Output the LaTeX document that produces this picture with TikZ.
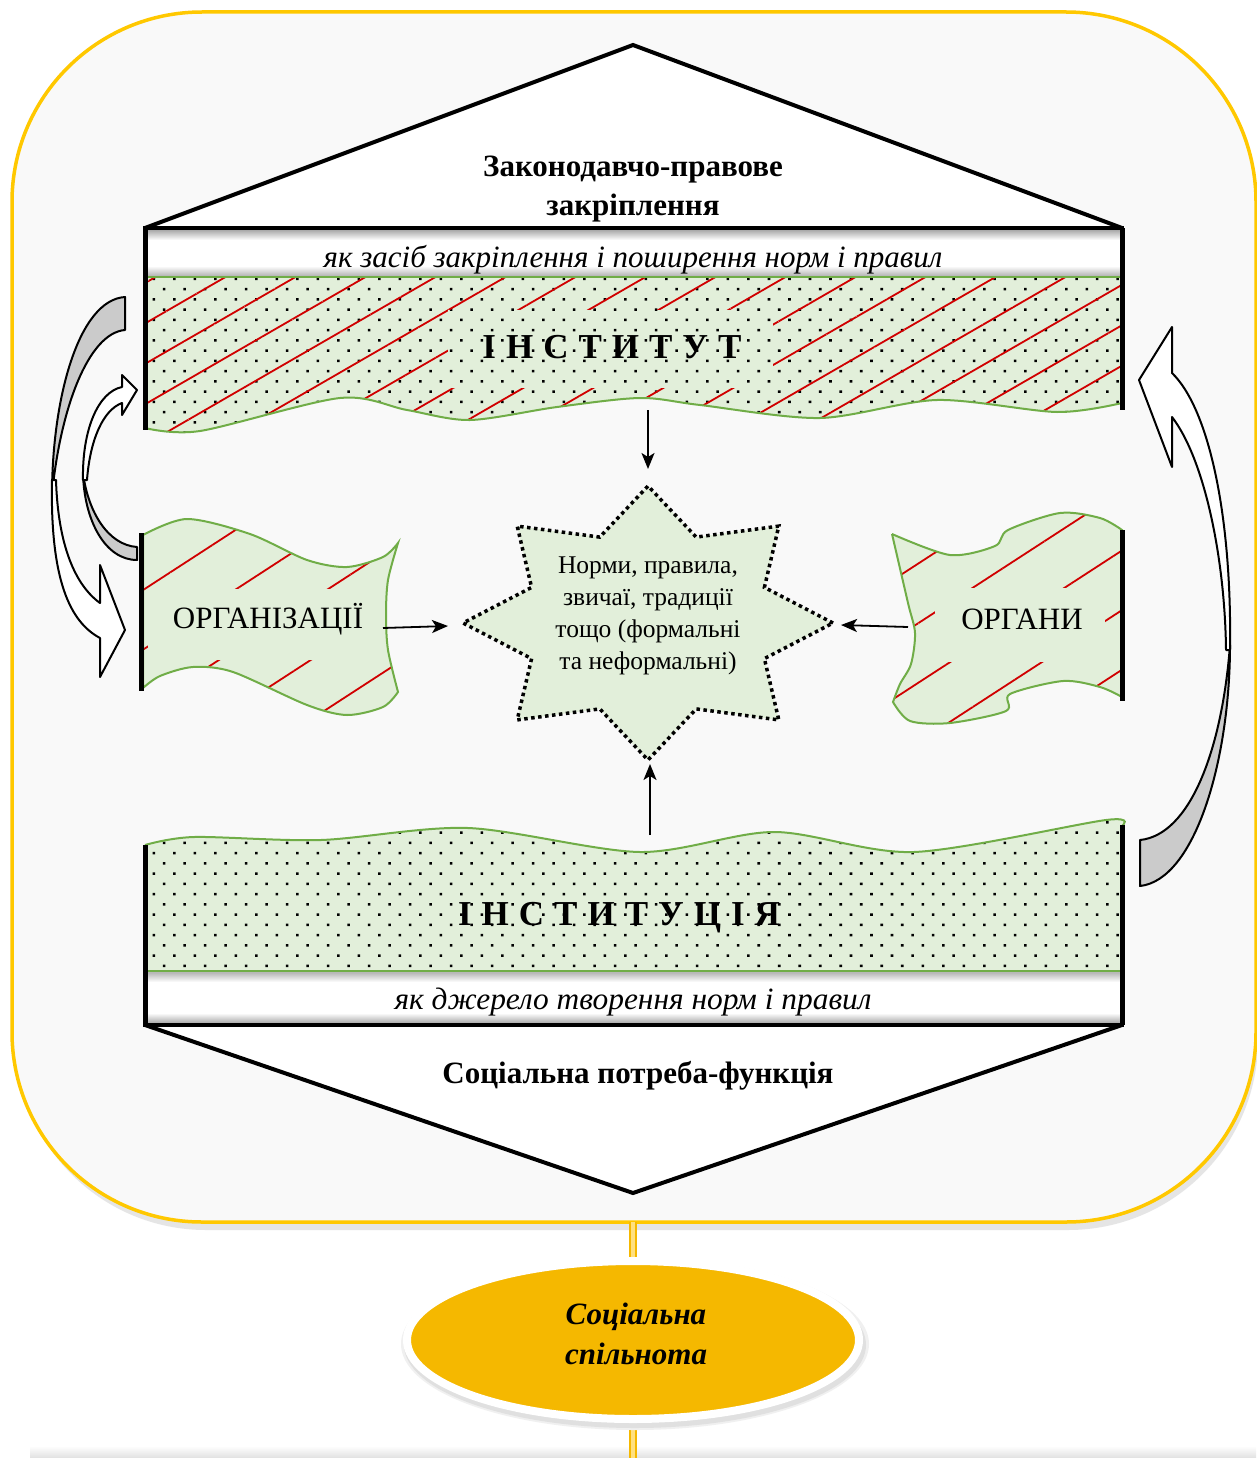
\documentclass[tikz,border=0pt]{standalone}
\usepackage{fontspec}
\usepackage{graphicx}
\setmainfont{Liberation Serif}
\usetikzlibrary{patterns.meta,arrows.meta,shapes.geometric,shadows}
\definecolor{gfill}{HTML}{E2EFDA}
\definecolor{gline}{HTML}{70AD47}
\definecolor{hred}{HTML}{D00000}
\definecolor{fgold}{HTML}{FFC800}
\definecolor{egold}{HTML}{F5B800}
\definecolor{egoldl}{HTML}{FFE080}
\definecolor{fbg}{HTML}{F9F9F9}
\definecolor{agray}{HTML}{CBCBCB}
\tikzset{
  barline/.style={line width=5pt},
  hexline/.style={line width=4pt, line join=miter},
  conn/.style={-{Stealth[length=16pt,width=13pt,inset=4pt]}, line width=1.8pt},
  flagline/.style={draw=gline, line width=2pt},
  dotsfill/.style={pattern={Dots[distance=14.5pt,angle=45,radius=1.8pt]}, pattern color=black},
  hatchband/.style={pattern={Lines[angle=30,distance=35pt,line width=1.8pt]}, pattern color=hred},
  hatchflag/.style={pattern={Lines[angle=33,distance=50pt,line width=1.8pt]}, pattern color=hred},
  carrow/.style={draw=black, line width=2pt, line join=round, fill=white},
  carrowback/.style={draw=black, line width=2pt, line join=round, fill=agray},
  starline/.style={draw=black, line width=3.5pt, dash pattern=on 3.5pt off 3.5pt, fill=gfill},
  captext/.style={font=\itshape\fontsize{31}{34}\selectfont},
  ttl/.style={font=\bfseries\fontsize{31}{39}\selectfont, align=center},
  lbl/.style={font=\fontsize{31}{34}\selectfont},
  bigtext/.style={font=\bfseries\fontsize{35}{40}\selectfont},
  goldpipe/.style={draw=egold, line width=2pt, double=egoldl, double distance=4pt},
}
\def\topband{(145,276) -- (1122,276) -- (1122,403) -- plot[smooth] coordinates {(1122,403) (1057,412) (937,400) (820,418) (700,405) (640,398) (557,407) (470,420) (407,410) (340,398) (200,431) (145,428)} -- cycle}
\def\botband{(145,972) -- (145,845) -- plot[smooth] coordinates {(145,845) (194,837) (321,840) (468,828) (640,852) (774,832) (914,852) (1106,820) (1122,826)} -- (1122,972) -- cycle}
\def\orgflag{plot[smooth] coordinates {(143,535) (187,519) (250,534) (307,560) (347,567) (383,557) (398,543)} -- plot[smooth] coordinates {(398,543) (388,580) (386,615) (388,650) (398,692)} -- plot[smooth] coordinates {(398,692) (383,707) (347,715) (307,705) (233,672) (193,667) (160,676) (143,688)} -- cycle}
\def\orgnflag{plot[smooth] coordinates {(892,534) (950,555) (995,546) (1008,530) (1060,513) (1100,518) (1122,530)} -- (1122,697) -- plot[smooth] coordinates {(1122,697) (1100,687) (1063,681) (1010,694) (1006,711) (950,723) (910,721) (893,702)} -- plot[smooth] coordinates {(893,702) (900,684) (911,664) (915,633) (908,603) (892,534)}}
\newcommand\gap{\hspace{10pt}}
\begin{document}
\begin{tikzpicture}[x=1pt,y=-1pt]
\useasboundingbox (0,0) rectangle (1256,1458);
\fill[white] (0,0) rectangle (1256,1458);
% faint edge of the next frame at the bottom
\shade[top color=white, bottom color=black!12] (30,1446) rectangle (1256,1458);
% outer frame with shadow
\fill[black!10, rounded corners=190pt] (16,20) rectangle (1258,1230);
\draw[line width=3.5pt, draw=fgold, fill=fbg, rounded corners=190pt] (12,12) rectangle (1256,1222);
\coordinate (frameB) at (633,1222);

% hexagon triangles
\fill[white] (145,228) -- (633,45) -- (1122,228) -- cycle;
\fill[white] (145,1025) -- (633,1193) -- (1122,1025) -- cycle;

% white strips with inner shadow
\fill[white] (145,228) rectangle (1122,276);
\shade[top color=black!40, bottom color=white] (145,228) rectangle (1122,240);
\shade[top color=white, bottom color=black!30] (145,266) rectangle (1122,276);
\fill[white] (145,972) rectangle (1122,1025);
\shade[top color=black!30, bottom color=white] (145,972) rectangle (1122,982);
\shade[top color=white, bottom color=black!40] (145,1013) rectangle (1122,1025);

% top band
\fill[gfill] \topband;
\path[dotsfill] \topband;
\begin{scope}
  \clip \topband;
  \path[hatchband] (145,276) rectangle (1122,440);
\end{scope}
\fill[gfill] (448,310) rectangle (773,388);
\path[dotsfill] (448,310) rectangle (773,388);
\draw[flagline] plot[smooth] coordinates {(1122,403) (1057,412) (937,400) (820,418) (700,405) (640,398) (557,407) (470,420) (407,410) (340,398) (200,431) (145,428)};
\draw[gline, line width=2pt] (145,277) -- (1122,277);
\node[bigtext] (inst) at (612,347) {І\gap Н\gap С\gap Т\gap И\gap Т\gap У\gap Т};

% bottom band
\fill[gfill] \botband;
\path[dotsfill] \botband;
\draw[flagline] plot[smooth] coordinates {(145,845) (194,837) (321,840) (468,828) (640,852) (774,832) (914,852) (1106,820) (1122,826)};
\draw[gline, line width=2.5pt] (145,971) -- (1122,971);
\node[bigtext] (instc) at (619,918) {І\gap Н\gap С\gap Т\gap И\gap Т\gap У\gap Ц\gap І\gap Я};

% captions
\node[captext] (capT) at (633,260) {як засіб закріплення і поширення норм і правил};
\node[captext] (capB) at (633,1002) {\resizebox{477pt}{\height}{як джерело творення норм і правил}};
\node[ttl] (law) at (633,189) {Законодавчо-правове\\закріплення};
\node[ttl] (need) at (638,1076) {Соціальна потреба-функція};

% organisations flag
\fill[gfill] \orgflag;
\begin{scope}
  \clip \orgflag;
  \path[hatchflag] (140,510) rectangle (400,720);
\end{scope}
\fill[gfill] (148,589) rectangle (386,660);
\draw[flagline] \orgflag;
\node[lbl] (org) at (268,619) {ОРГАНІЗАЦІЇ};

% organs flag
\fill[gfill] \orgnflag -- cycle;
\begin{scope}
  \clip \orgnflag -- cycle;
  \path[hatchflag] (885,505) rectangle (1125,730);
\end{scope}
\fill[gfill] (935,588) rectangle (1105,662);
\draw[flagline] \orgnflag;
\node[lbl] (orgn) at (1022,619) {ОРГАНИ};

% star
\draw[starline] (833,623) -- (764.4,587.4) -- (778.8,526.1) -- (696.2,537.1) -- (648,486) -- (599.8,537.1) -- (517.2,526.1) -- (531.6,587.4) -- (463,623) -- (531.6,658.6) -- (517.2,719.9) -- (599.8,708.9) -- (648,760) -- (696.2,708.9) -- (778.8,719.9) -- (764.4,658.6) -- cycle;
\node[align=center, font=\fontsize{25.5}{32}\selectfont] (norms) at (648,616) {Норми, правила,\\звичаї, традиції\\тощо (формальні\\та неформальні)};

% connector end points
\coordinate (instOut) at (648,410);
\coordinate (starTop) at (648,469);
\coordinate (orgOut) at (383,628);
\coordinate (starLeft) at (448,626);
\coordinate (orgnOut) at (908,627);
\coordinate (starRight) at (841,625);
\coordinate (instcOut) at (650,835);
\coordinate (starBot) at (650,764);
\draw[conn] (instOut) -- (starTop);
\draw[conn] (orgOut) -- (starLeft);
\draw[conn] (orgnOut) -- (starRight);
\draw[conn] (instcOut) -- (starBot);

% curved arrows
\draw[carrowback] (125,297) .. controls (78,300) and (52,400) .. (52,495) .. controls (60,410) and (88,333) .. (125,330) -- cycle;
\draw[carrow] (52,480) .. controls (50,580) and (70,622) .. (100,638) -- (100,677) -- (125,630) -- (100,565) -- (100,603) .. controls (75,585) and (58,545) .. (56,480) -- cycle;
\draw[carrowback] (137,560) .. controls (105,560) and (84,520) .. (83,473) .. controls (88,512) and (108,545) .. (137,547) -- cycle;
\draw[carrow] (83,480) .. controls (82,430) and (98,392) .. (122,387) -- (122,375) -- (137,390) -- (122,415) -- (122,403) .. controls (103,410) and (90,440) .. (87,480) -- cycle;
\draw[carrowback] (1140,886) .. controls (1195,880) and (1230,760) .. (1230,645) .. controls (1222,750) and (1190,835) .. (1140,840) -- cycle;
\draw[carrow] (1230,650) .. controls (1232,520) and (1210,410) .. (1172,373) -- (1172,327) -- (1139,380) -- (1172,467) -- (1172,417) .. controls (1205,460) and (1225,560) .. (1226,650) -- cycle;

% hexagon outline and bars
\draw[hexline] (145,228) -- (633,45) -- (1122,228);
\draw[hexline] (145,1025) -- (633,1193) -- (1122,1025);
\draw[line width=3.5pt] (143,228) -- (1124,228);
\draw[line width=3.5pt] (143,1025) -- (1124,1025);
\draw[barline] (145,228) -- (145,430);
\draw[barline] (1122,228) -- (1122,410);
\draw[barline] (141,533) -- (141,691);
\draw[barline] (1122,530) -- (1122,701);
\draw[barline] (145,845) -- (145,1025);
\draw[barline] (1122,825) -- (1122,1025);

% community ellipse
\coordinate (pageB) at (633,1458);
\draw[goldpipe] (frameB) -- (633,1300);
\draw[goldpipe] (633,1380) -- (pageB);
\fill[black!6] (635,1344) ellipse [x radius=234pt, y radius=86pt];
\fill[black!12] (635,1345) ellipse [x radius=231pt, y radius=83pt];
\node[ellipse, minimum width=452pt, minimum height=158pt, fill=egold, draw=white, line width=8pt] (comm) at (633,1340) {};
\node[font=\bfseries\itshape\fontsize{31}{40}\selectfont, align=center] (commtext) at (636,1334) {Соціальна\\спільнота};
\end{tikzpicture}
\end{document}
